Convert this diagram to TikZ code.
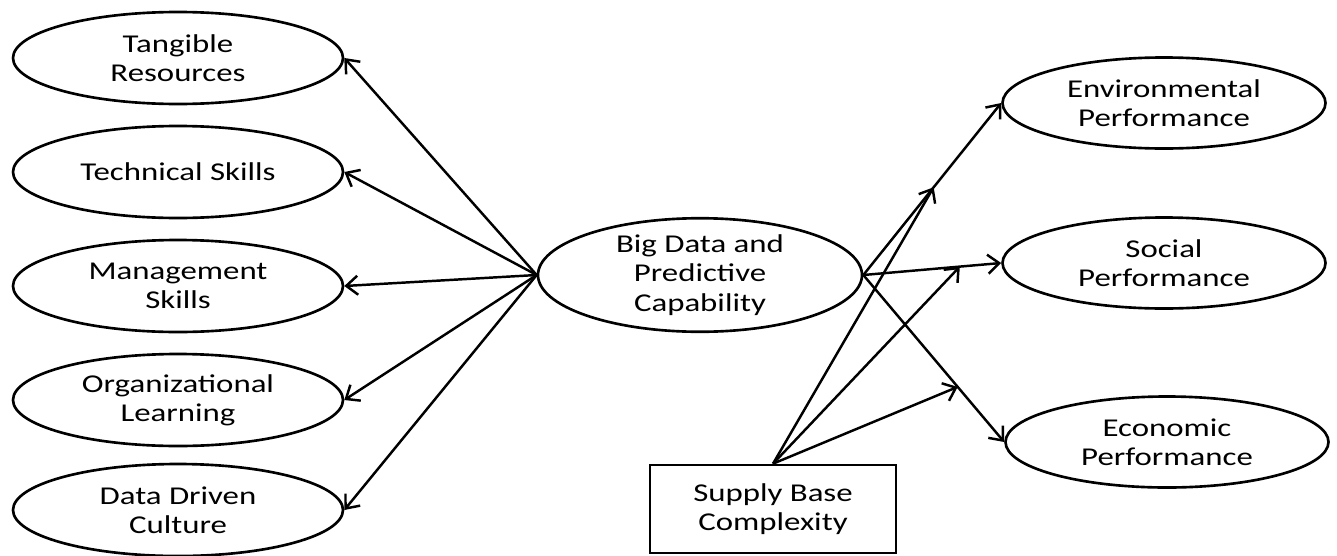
\documentclass[tikz,border=0pt]{standalone}
\usepackage{fontspec}
\setmainfont{Carlito}[FakeStretch=1.28]
\usepackage{tikz}
\usetikzlibrary{arrows.meta,shapes.geometric}

\begin{document}
\begin{tikzpicture}[every node/.style={font=\fontsize{14.6pt}{16.6pt}\selectfont},
  construct/.style={draw, ellipse, line width=1.5pt, inner sep=0pt, align=center, minimum width=6.6cm, minimum height=1.84cm},
  outcome/.style={construct, minimum width=6.46cm, minimum height=1.82cm},
  link/.style={line width=1.4pt, -{Straight Barb[length=2.3mm,width=3.8mm,line width=1.4pt]}}]
  \useasboundingbox (0,0) rectangle (26.74,11.1);

  % antecedents
  \node[construct] (tangible) at (3.56,9.94) {Tangible\\Resources};
  \node[construct] (technical) at (3.56,7.66) {Technical Skills};
  \node[construct] (management) at (3.56,5.38) {Management\\Skills};
  \node[construct] (orglearning) at (3.56,3.10) {Organizational\\Learning};
  \node[construct] (culture) at (3.56,0.90) {Data Driven\\Culture};

  \node[construct, minimum width=6.48cm, minimum height=2.2cm] (bigdata) at (14.0,5.6) {Big Data and\\Predictive\\Capability};

  % outcomes
  \node[outcome] (environmental) at (23.28,9.04) {Environmental\\Performance};
  \node[outcome] (social) at (23.28,5.84) {Social\\Performance};
  \node[outcome] (economic) at (23.34,2.26) {Economic\\Performance};

  \node[draw, line width=1.5pt, align=center, minimum width=4.92cm, minimum height=1.76cm] (supply) at (15.46,0.92) {Supply Base\\Complexity};

  \foreach \n in {tangible,technical,management,orglearning,culture}
    \draw[link] (bigdata.west) -- (\n.east);

  \draw[link] (bigdata.east) -- coordinate[pos=0.51] (modenv) (environmental.west);
  \draw[link] (bigdata.east) -- coordinate[pos=0.7] (modsoc) (social.west);
  \draw[link] (bigdata.east) -- coordinate[pos=0.67] (modeco) (economic.west);

  % moderation
  \draw[link] (supply.north) -- (modenv);
  \draw[link] (supply.north) -- (modsoc);
  \draw[link] (supply.north) -- (modeco);
\end{tikzpicture}
\end{document}
